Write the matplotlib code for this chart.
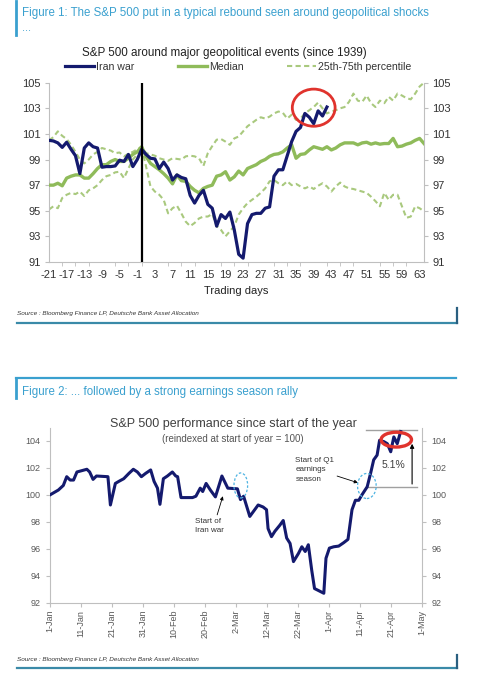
import numpy as np
import matplotlib
matplotlib.use("Agg")
import matplotlib.pyplot as plt
from matplotlib.lines import Line2D
from matplotlib.patches import Ellipse

plt.rcParams['font.family'] = ['Liberation Sans', 'DejaVu Sans']
plt.rcParams['axes.unicode_minus'] = False

# ---------------- data: figure 1 (trading days around event) ----------------
days = list(range(-21, 65))
iran_war = [100.5, 100.45, 100.3, 99.95, 100.35, 99.8, 99.3, 97.9, 99.9, 100.3,
            100.0, 99.9, 98.4, 98.45, 98.45, 98.5, 98.95, 98.85, 99.4, 98.45,
            99.0, 99.8, 99.4, 99.1, 99.05, 98.3, 98.8, 98.3, 97.4, 97.8,
            97.6, 97.5, 96.2, 95.6, 96.2, 96.6, 95.5, 95.2, 93.8, 94.7,
            94.4, 94.9, 93.5, 91.6, 91.3, 94.0, 94.7, 94.8, 94.8, 95.2,
            95.3, 97.7, 98.2, 98.2, 99.3, 100.4, 101.2, 101.5, 102.6, 102.3,
            101.8, 102.8, 102.4, 103.1]
median = [97.0, 97.0, 97.15, 96.95, 97.55, 97.7, 97.8, 97.8, 97.55, 97.55,
          97.9, 98.3, 98.6, 98.6, 98.85, 99.0, 98.85, 98.85, 99.1, 99.4,
          99.6, 100.0, 99.25, 98.7, 98.45, 98.2, 97.9, 97.55, 97.1, 97.8,
          97.35, 97.3, 96.9, 96.6, 96.4, 96.75, 96.9, 97.0, 97.7, 97.8,
          98.05, 97.4, 97.65, 98.1, 97.8, 98.3, 98.45, 98.6, 98.85, 99.0,
          99.25, 99.4, 99.45, 99.6, 99.9, 100.15, 99.1, 99.4, 99.45, 99.75,
          100.0, 99.9, 99.8, 100.0, 99.75, 99.9, 100.15, 100.3, 100.3, 100.3,
          100.15, 100.3, 100.35, 100.2, 100.3, 100.2, 100.25, 100.25, 100.65, 100.0,
          100.05, 100.2, 100.3, 100.5, 100.65, 100.25]
pct75 = [100.5, 100.75, 101.2, 100.85, 100.6, 100.15, 99.6, 99.0, 98.7, 99.0,
         99.4, 99.6, 99.9, 99.8, 99.7, 99.5, 99.55, 99.25, 99.45, 99.6,
         99.8, 100.0, 99.5, 99.4, 99.3, 99.1, 99.0, 98.9, 99.1, 99.05,
         99.0, 99.25, 99.3, 99.25, 99.1, 98.5, 99.5, 100.05, 100.55, 100.6,
         100.4, 100.15, 100.65, 100.8, 101.2, 101.6, 101.85, 102.1, 102.3, 102.2,
         102.35, 102.6, 102.75, 102.65, 102.2, 102.5, 102.1, 102.2, 102.6, 102.85,
         103.1, 103.45, 103.0, 102.6, 102.75, 102.85, 103.0, 103.1, 103.5, 104.15,
         103.6, 103.5, 104.0, 103.4, 103.1, 103.6, 103.4, 103.9, 103.6, 104.15,
         104.0, 103.8, 103.7, 104.15, 104.7, 105.0]
pct25 = [95.1, 95.35, 95.2, 96.0, 96.25, 96.4, 96.3, 96.5, 96.15, 96.6,
         96.75, 97.0, 97.4, 97.7, 97.8, 98.0, 98.05, 97.55, 98.3, 99.0,
         99.4, 100.0, 98.45, 96.9, 96.5, 96.25, 95.85, 94.8, 95.2, 95.4,
         94.8, 94.15, 93.8, 94.05, 94.4, 94.55, 94.55, 94.75, 93.8, 93.5,
         93.0, 93.4, 93.8, 94.7, 95.2, 95.6, 95.85, 96.1, 96.4, 96.75,
         97.3, 97.4, 97.15, 97.0, 97.3, 97.0, 97.1, 96.9, 96.75, 96.9,
         96.7, 96.95, 97.15, 96.9, 96.5, 96.9, 97.2, 96.9, 96.75, 96.7,
         96.6, 96.5, 96.4, 96.1, 95.75, 95.35, 96.4, 95.85, 96.25, 96.25,
         95.35, 94.45, 94.55, 95.35, 95.2, 94.95]
day_labels = list(range(-21, 64, 4))

# ---------------- data: figure 2 (days since 1-Jan) ----------------
ytd_day = [0, 2.7, 4.3, 5.4, 6.5, 7.6, 8.7, 10.3, 11.9, 12.8,
           13.9, 15.0, 18.7, 19.5, 21.1, 22.2, 23.8, 25.5, 26.9, 28.2,
           29.5, 30.9, 32.5, 33.6, 34.7, 35.5, 36.6, 37.9, 39.5, 40.6,
           41.2, 42.3, 46.0, 47.1, 48.5, 49.3, 50.4, 51.8, 53.4, 55.5,
           57.4, 60.5, 61.5, 62.5, 64.5, 67.2, 68.8, 69.9, 70.4, 71.5,
           72.6, 74.2, 75.3, 76.4, 77.5, 78.6, 80.2, 81.3, 82.4, 83.4,
           84.5, 85.4, 86.7, 88.4, 89.1, 90.2, 91.6, 93.2, 94.8, 96.2,
           97.5, 98.6, 99.7, 100.7, 102.4, 103.5, 104.5, 105.6, 106.4, 107.8,
           108.9, 110.0, 111.0, 112.1, 113.2]
ytd_val = [100.0, 100.36, 100.7, 101.35, 101.1, 101.1, 101.7, 101.8, 101.9, 101.7,
           101.15, 101.4, 101.35, 99.25, 100.85, 101.0, 101.2, 101.6, 101.9, 101.7,
           101.35, 101.6, 101.85, 101.0, 100.5, 99.3, 101.2, 101.4, 101.7, 101.4,
           101.35, 99.8, 99.8, 99.9, 100.5, 100.25, 100.85, 100.35, 99.85, 101.4,
           100.5, 100.45, 99.65, 99.9, 98.4, 99.25, 99.1, 98.9, 97.5, 96.9,
           97.3, 97.75, 98.1, 96.8, 96.4, 95.05, 95.65, 96.15, 95.8, 96.3,
           94.4, 93.05, 92.9, 92.7, 95.3, 96.05, 96.15, 96.2, 96.45, 96.7,
           98.9, 99.6, 99.6, 100.0, 100.6, 101.6, 102.6, 102.95, 104.05, 103.95,
           103.8, 103.2, 104.3, 103.8, 104.7]
date_ticks = list(range(0, 121, 10))
date_labels = ['1-Jan', '11-Jan', '21-Jan', '31-Jan', '10-Feb', '20-Feb', '2-Mar',
               '12-Mar', '22-Mar', '1-Apr', '11-Apr', '21-Apr', '1-May']

NAVY = '#141a6e'
GREEN = '#8fbb5a'
GREEN_D = '#a9c97e'
RED = '#e0332d'
BLUE_T = '#3aa0cf'
FRAME = '#3a8aa8'
AXC = '#bfbfbf'

W, H = 480, 678
fig = plt.figure(figsize=(W / 100, H / 100), dpi=100)


def fx(x):
    return x / W


def fy(y):
    return 1 - y / H


def fline(xs, ys, **kw):
    fig.add_artist(Line2D([fx(x) for x in xs], [fy(y) for y in ys],
                          transform=fig.transFigure, **kw))


# ---------------- figure 1 frame ----------------
fline([16, 16], [1, 35], color=BLUE_T, lw=2)
fig.text(fx(22), fy(13), 'Figure 1: The S&P 500 put in a typical rebound seen around geopolitical shocks',
         color=BLUE_T, fontsize=8.3, va='center', ha='left')
fig.text(fx(22), fy(28), '...', color=BLUE_T, fontsize=8, va='center', ha='left')
fig.text(fx(224), fy(53), 'S&P 500 around major geopolitical events (since 1939)',
         fontsize=8.4, color='#222222', ha='center', va='center')

ax1 = fig.add_axes([fx(49), fy(262), fx(424) - fx(49), fy(82.7) - fy(262)])
ax1.plot(days[:len(iran_war)], iran_war, color=NAVY, lw=2.3, zorder=4, label='Iran war')
ax1.plot(days, median, color=GREEN, lw=2.4, zorder=3, label='Median')
ax1.plot(days, pct75, color=GREEN_D, lw=1.5, dashes=(2.5, 1.6), zorder=2,
         label='25th-75th percentile')
ax1.plot(days, pct25, color=GREEN_D, lw=1.5, dashes=(2.5, 1.6), zorder=2)
ax1.axvline(0, color='black', lw=1.6, zorder=5)
ax1.add_patch(Ellipse((39, 103.05), 9.7, 2.9, fill=False, ec=RED, lw=2, zorder=6, clip_on=False))

ax1.set_xlim(-21, 64)
ax1.set_ylim(91, 105)
ax1.set_yticks(range(91, 106, 2))
ax1.set_xticks(day_labels)
ax1.set_xticks(range(-21, 65, 3), minor=True)
ax1.tick_params(axis='x', which='major', length=0, pad=6, labelsize=8, labelcolor='#333333')
ax1.tick_params(axis='x', which='minor', length=3, color=AXC, direction='out')
ax1.tick_params(axis='y', length=3, color=AXC, labelsize=8, labelcolor='#333333',
                right=True, labelright=True, pad=3)
for s in ['left', 'right', 'bottom']:
    ax1.spines[s].set_color(AXC)
ax1.spines['top'].set_visible(False)
ax1.set_xlabel('Trading days', fontsize=8, color='#222222', labelpad=4)

fig.legend(loc='center', bbox_to_anchor=(fx(238), fy(67)), ncol=3, frameon=False,
           fontsize=7.6, handlelength=2.8, handletextpad=0.15, columnspacing=4.1,
           labelcolor='#333333')

fig.text(fx(17), fy(313), 'Source : Bloomberg Finance LP, Deutsche Bank Asset Allocation',
         fontsize=4.6, style='italic', color='#333333', va='center')
fline([17, 457], [323, 323], color=FRAME, lw=1.6)
fline([457, 457], [308, 323], color='#2a5f80', lw=1.6)

# ---------------- figure 2 frame ----------------
fline([16, 456], [378, 378], color=BLUE_T, lw=1.6)
fline([16, 16], [378, 398], color=BLUE_T, lw=2)
fig.text(fx(22), fy(392), 'Figure 2: ... followed by a strong earnings season rally',
         color=BLUE_T, fontsize=8.3, va='center', ha='left')
fig.text(fx(233), fy(424), 'S&P 500 performance since start of the year',
         fontsize=9, color='#404040', ha='center', va='center')
fig.text(fx(233), fy(439), '(reindexed at start of year = 100)',
         fontsize=7, color='#555555', ha='center', va='center')

ax2 = fig.add_axes([fx(50), fy(602.7), fx(421.7) - fx(50), fy(427.5) - fy(602.7)])
ax2.plot(ytd_day, ytd_val, color=NAVY, lw=2.2, zorder=4)

# peak/start levels and 5.1% arrow
ax2.plot([102, 118.5], [104.8, 104.8], color='#a0a0a0', lw=1, clip_on=False)
ax2.plot([102, 118.5], [100.6, 100.6], color='#a0a0a0', lw=1)
ax2.annotate('', xy=(116.9, 104.0), xytext=(116.9, 100.6),
             arrowprops=dict(arrowstyle='-|>', color='black', lw=0.8, mutation_scale=6))
ax2.text(111, 102.2, '5.1%', fontsize=7.5, color='#404040', ha='center', va='center')

ax2.add_patch(Ellipse((111.8, 104.1), 9.8, 1.1, fill=False, ec=RED, lw=2.4, zorder=6, clip_on=False))
ax2.add_patch(Ellipse((61.6, 100.7), 4.4, 1.86, fill=False, ec='#4db3e2', lw=0.9, ls=(0, (2, 1.5)), zorder=6))
ax2.add_patch(Ellipse((102.3, 100.66), 6.0, 1.86, fill=False, ec='#4db3e2', lw=0.9, ls=(0, (2, 1.5)), zorder=6))

ax2.annotate('Start of\nIran war', xy=(55.8, 99.9), xytext=(46.7, 97.7), fontsize=5.8,
             color='#333333', ha='left', va='center', linespacing=1.5,
             arrowprops=dict(arrowstyle='-|>', color='black', lw=0.6, mutation_scale=5,
                             shrinkA=0, shrinkB=0, relpos=(0.75, 1.0)))
ax2.annotate('Start of Q1\nearnings\nseason', xy=(99.4, 100.9), xytext=(79.2, 101.85), fontsize=5.8,
             color='#333333', ha='left', va='center', linespacing=1.5,
             arrowprops=dict(arrowstyle='-|>', color='black', lw=0.6, mutation_scale=5,
                             shrinkA=0, shrinkB=0, relpos=(1.0, 0.3)))

ax2.set_xlim(0, 120)
ax2.set_ylim(92, 105)
ax2.set_yticks(range(92, 105, 2))
ax2.set_xticks(date_ticks)
ax2.set_xticklabels(date_labels, rotation=90)
ax2.tick_params(axis='x', length=3, color=AXC, labelsize=6.5, labelcolor='#595959', pad=2)
ax2.tick_params(axis='y', length=3, color=AXC, labelsize=6.5, labelcolor='#595959',
                right=True, labelright=True, pad=4)
for s in ['left', 'right', 'bottom']:
    ax2.spines[s].set_color(AXC)
ax2.spines['top'].set_visible(False)

fig.text(fx(17), fy(659), 'Source : Bloomberg Finance LP, Deutsche Bank Asset Allocation',
         fontsize=4.6, style='italic', color='#333333', va='center')
fline([17, 457], [668, 668], color=FRAME, lw=1.6)
fline([457, 457], [655, 668], color='#2a5f80', lw=1.6)

fig.savefig('out.png', dpi=100, facecolor='white')
